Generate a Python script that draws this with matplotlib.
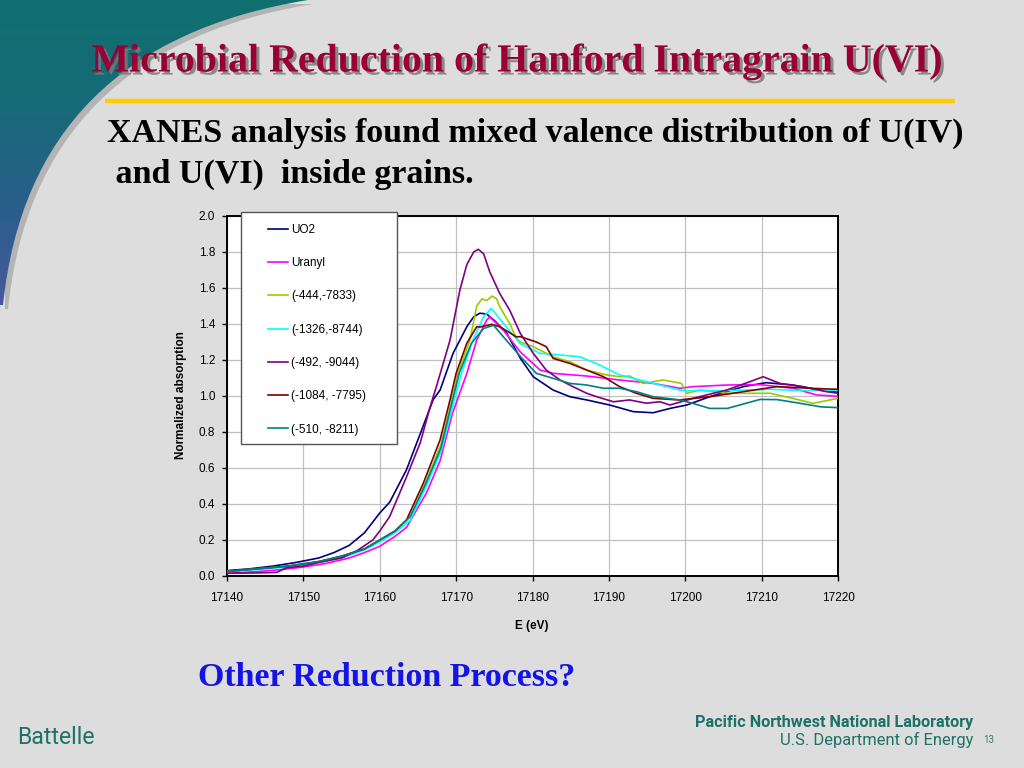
import numpy as np
import matplotlib
matplotlib.use("Agg")
import matplotlib.pyplot as plt
import matplotlib.patheffects as pe
from matplotlib.patches import Rectangle, PathPatch
from matplotlib.path import Path
from matplotlib.colors import LinearSegmentedColormap

# XANES spectra (energy in eV, normalized absorption)
e_uo2 = [17140, 17143, 17146, 17149, 17152, 17154, 17156, 17158, 17160, 17161.3, 17163.5, 17165.3,
         17167, 17167.9, 17169.6, 17171.4, 17172.3, 17173.1, 17174, 17175, 17176.6, 17178.4, 17180.1,
         17182.7, 17184.9, 17187.1, 17190.1, 17193.2, 17195.8, 17198, 17200.2, 17203.2, 17207.6,
         17210.6, 17214.1, 17217.6, 17220]
y_uo2 = [0.03, 0.04, 0.055, 0.075, 0.10, 0.13, 0.17, 0.24, 0.35, 0.41, 0.59, 0.79,
         0.98, 1.033, 1.237, 1.385, 1.44, 1.46, 1.455, 1.42, 1.35, 1.21, 1.107,
         1.033, 0.996, 0.978, 0.95, 0.913, 0.907, 0.931, 0.95, 0.996, 1.052,
         1.074, 1.061, 1.033, 1.02]

e_uranyl = [17140, 17144, 17147, 17150, 17153, 17156, 17158, 17160, 17162, 17163.5, 17166.1, 17167.9,
            17169.5, 17171.4, 17172.7, 17174, 17174.4, 17176.2, 17178.4, 17181, 17182.7, 17187.1,
            17191.4, 17195.8, 17199.3, 17201, 17205.4, 17209.8, 17214.1, 17217.2, 17220]
y_uranyl = [0.015, 0.025, 0.035, 0.05, 0.07, 0.10, 0.13, 0.165, 0.22, 0.27, 0.46, 0.64,
            0.90, 1.126, 1.311, 1.422, 1.44, 1.365, 1.245, 1.144, 1.126, 1.111,
            1.089, 1.07, 1.043, 1.052, 1.061, 1.063, 1.043, 1.006, 0.998]

e_444 = [17140, 17144, 17148, 17152, 17155, 17158, 17160, 17162, 17164, 17166, 17168, 17169.1,
         17170.2, 17171.8, 17172.7, 17173.4, 17174, 17174.7, 17175.3, 17175.7, 17177, 17177.9,
         17178.4, 17180.1, 17182.7, 17184.9, 17187.1, 17189.7, 17191.4, 17192.7, 17194.5, 17197.1,
         17199.5, 17200.2, 17201.9, 17205.5, 17211.1, 17214.1, 17216.7, 17220]
y_444 = [0.025, 0.04, 0.055, 0.08, 0.11, 0.15, 0.20, 0.25, 0.33, 0.52, 0.73, 0.92,
         1.12, 1.31, 1.50, 1.54, 1.53, 1.555, 1.54, 1.496, 1.404, 1.32,
         1.30, 1.274, 1.218, 1.19, 1.144, 1.117, 1.107, 1.111, 1.07, 1.089,
         1.07, 1.015, 1.033, 1.015, 1.015, 0.987, 0.959, 0.987]

e_1326 = [17140, 17144, 17148, 17152, 17155, 17158, 17160, 17162, 17164, 17166, 17168, 17169.1,
          17170.7, 17172.2, 17173.6, 17174.6, 17176.6, 17178.4, 17181, 17183.6, 17186.2, 17188.8,
          17191.4, 17194, 17196.7, 17199.3, 17200.2, 17205.4, 17211.1, 17215.4, 17220]
y_1326 = [0.025, 0.035, 0.05, 0.075, 0.10, 0.145, 0.19, 0.24, 0.31, 0.49, 0.69, 0.867,
          1.126, 1.31, 1.44, 1.487, 1.383, 1.29, 1.237, 1.228, 1.218, 1.172,
          1.117, 1.089, 1.061, 1.033, 1.03, 1.03, 1.037, 1.03, 1.033]

e_492 = [17140, 17144, 17146.5, 17147.8, 17150, 17152, 17155, 17157, 17159.1, 17160, 17161.3,
         17163.5, 17165.3, 17166.6, 17167.4, 17169.2, 17170.5, 17171.4, 17172.3, 17172.9, 17173.6,
         17174.4, 17174.9, 17175.7, 17177, 17178.4, 17180.1, 17181.8, 17183.6, 17185.3, 17187.1,
         17188.4, 17190.6, 17192.7, 17194.9, 17196.7, 17198, 17201, 17205.4, 17208.5, 17210.2,
         17212.4, 17215.4, 17218.5, 17220]
y_492 = [0.015, 0.017, 0.02, 0.046, 0.055, 0.075, 0.10, 0.14, 0.20, 0.25, 0.33,
         0.55, 0.74, 0.94, 1.05, 1.31, 1.59, 1.73, 1.80, 1.815, 1.79,
         1.69, 1.644, 1.57, 1.478, 1.348, 1.237, 1.144, 1.089, 1.052, 1.015,
         0.996, 0.968, 0.978, 0.96, 0.968, 0.95, 0.987, 1.033, 1.08, 1.107,
         1.07, 1.052, 1.024, 1.015]

e_1084 = [17140, 17144, 17148, 17152, 17155, 17158, 17160, 17162, 17163.5, 17165.7, 17167.9, 17169.2,
          17170, 17171.4, 17172.7, 17173.1, 17174.7, 17175.8, 17177.9, 17178.4, 17180.5, 17181.8,
          17182.7, 17184.9, 17187.1, 17189.3, 17191.4, 17193.6, 17195.8, 17199.2, 17203.2, 17207.6,
          17212, 17216.3, 17220]
y_1084 = [0.025, 0.04, 0.055, 0.08, 0.11, 0.15, 0.20, 0.25, 0.311, 0.515, 0.756, 0.978,
          1.126, 1.293, 1.385, 1.383, 1.398, 1.383, 1.328, 1.33, 1.30, 1.274,
          1.209, 1.181, 1.144, 1.107, 1.052, 1.015, 0.987, 0.978, 0.996, 1.024,
          1.052, 1.043, 1.037]

e_510 = [17140, 17144, 17148, 17152, 17155, 17158, 17160, 17162, 17164, 17166, 17168, 17168.9,
         17170.4, 17172, 17173.6, 17174.9, 17176.2, 17178.4, 17180.5, 17182.7, 17184.9, 17187.1,
         17189.3, 17191.4, 17193.6, 17195.8, 17199.3, 17201, 17203.2, 17205.5, 17209.8, 17212,
         17215.1, 17217.7, 17220]
y_510 = [0.025, 0.04, 0.055, 0.08, 0.11, 0.15, 0.20, 0.25, 0.33, 0.51, 0.71, 0.867,
         1.126, 1.293, 1.375, 1.393, 1.328, 1.22, 1.126, 1.098, 1.07, 1.061,
         1.043, 1.043, 1.024, 0.996, 0.978, 0.959, 0.931, 0.931, 0.981, 0.98,
         0.959, 0.94, 0.935]

series = [
    ("UO2", e_uo2, y_uo2, "#000080"),
    ("Uranyl", e_uranyl, y_uranyl, "#ff00ff"),
    ("(-444,-7833)", e_444, y_444, "#99cc00"),
    ("(-1326,-8744)", e_1326, y_1326, "#00ffff"),
    ("(-492, -9044)", e_492, y_492, "#800080"),
    ("(-1084, -7795)", e_1084, y_1084, "#800000"),
    ("(-510, -8211)", e_510, y_510, "#008080"),
]

x_ticks = [17140, 17150, 17160, 17170, 17180, 17190, 17200, 17210, 17220]
y_ticks = [0.0, 0.2, 0.4, 0.6, 0.8, 1.0, 1.2, 1.4, 1.6, 1.8, 2.0]

W, H = 1024, 768
fig = plt.figure(figsize=(W / 100, H / 100), dpi=100)
fig.patch.set_facecolor("#dddddd")

# slide background layer in pixel coordinates
bg = fig.add_axes([0, 0, 1, 1], zorder=0)
bg.set_xlim(0, W)
bg.set_ylim(H, 0)
bg.axis("off")

# teal swoosh in the top-left corner
verts = [(0, 0), (308, 0), (30, 45), (3, 305), (0, 305), (0, 0)]
codes = [Path.MOVETO, Path.LINETO, Path.CURVE3, Path.CURVE3, Path.LINETO, Path.CLOSEPOLY]
shadow = PathPatch(Path([(x + 5, y + 4) for x, y in verts], codes), facecolor="#9a9a9a",
                   edgecolor="none", alpha=0.6)
bg.add_patch(shadow)
swoosh = PathPatch(Path(verts, codes), facecolor="none", edgecolor="none")
bg.add_patch(swoosh)
cmap = LinearSegmentedColormap.from_list("sw", ["#0f7070", "#176a78", "#2a5e8c", "#4c59a0"])
grad = np.linspace(0, 1, 256).reshape(-1, 1)
im = bg.imshow(grad, extent=(0, 320, 320, 0), cmap=cmap, aspect="auto", zorder=1)
im.set_clip_path(swoosh)
bg.set_xlim(0, W)
bg.set_ylim(H, 0)


def fit_width(t, width):
    r = fig.canvas.get_renderer()
    w = t.get_window_extent(r).width
    t.set_fontsize(t.get_fontsize() * width / w)


serif = "Liberation Serif"
title = "Microbial Reduction of Hanford Intragrain U(VI)"
tt = bg.text(517, 62, title, fontsize=30, family=serif, weight="bold", color="#990033",
             ha="center", va="center", zorder=5)
fit_width(tt, 850)
tt.set_path_effects([pe.SimplePatchShadow(offset=(2.2, -2.2), shadow_rgbFace="#7a7a7a", alpha=0.85),
                     pe.Normal()])

bg.plot([105, 955], [101, 101], color="#ffcc00", lw=3.2, solid_capstyle="butt", zorder=3)

s1 = bg.text(107, 133, "XANES analysis found mixed valence distribution of U(IV)", fontsize=22,
             family=serif, weight="bold", color="black", ha="left", va="center", zorder=5)
fit_width(s1, 858)
bg.text(107, 174, " and U(VI)  inside grains.", fontsize=s1.get_fontsize(), family=serif,
        weight="bold", color="black", ha="left", va="center", zorder=5)

q = bg.text(198, 678, "Other Reduction Process?", fontsize=22, family=serif, weight="bold",
            color="#1414e6", ha="left", va="center", zorder=5)
fit_width(q, 379)

teal_txt = "#1d7268"
b = bg.text(17, 738, "Battelle", fontsize=15, family="Roboto", color=teal_txt,
            ha="left", va="center", zorder=5)
fit_width(b, 78)
p1 = bg.text(973, 722, "Pacific Northwest National Laboratory", fontsize=11, family="Roboto",
             weight="bold", color=teal_txt, ha="right", va="center", zorder=5)
fit_width(p1, 280)
p2 = bg.text(973, 740, "U.S. Department of Energy", fontsize=11, family="Roboto",
             color=teal_txt, ha="right", va="center", zorder=5)
fit_width(p2, 193)
bg.text(983, 740, "13", fontsize=7, family="Roboto", color="#3a7a72", ha="left", va="center", zorder=5)

# chart
x0, x1, y0, y1 = 227, 838, 216, 576
ax = fig.add_axes([x0 / W, 1 - y1 / H, (x1 - x0) / W, (y1 - y0) / H], zorder=2)
ax.set_facecolor("white")
for name, e, y, c in series:
    ax.plot(e, y, color=c, lw=1.2, label=name, zorder=3)

ax.set_xlim(17140, 17220)
ax.set_ylim(0, 2.0)
ax.set_xticks(x_ticks)
ax.set_yticks(y_ticks)
ax.set_yticklabels([f"{v:.1f}" for v in y_ticks])
ax.grid(True, color="#c0c0c0", lw=0.9, zorder=0)
ax.set_axisbelow(True)
for sp in ax.spines.values():
    sp.set_color("black")
    sp.set_linewidth(1.4)
ax.tick_params(direction="out", length=3.6, width=1, colors="black", labelsize=8.5, pad=5)
ax.tick_params(axis="x", pad=8)
for lab in ax.get_xticklabels() + ax.get_yticklabels():
    lab.set_family("Liberation Sans")

ax.set_xlabel("E (eV)", family="Liberation Sans", weight="bold", fontsize=8.5)
ax.set_ylabel("Normalized absorption", family="Liberation Sans", weight="bold", fontsize=8.5)
ax.xaxis.set_label_coords((532 - x0) / (x1 - x0), (y1 - 626) / (y1 - y0))
ax.yaxis.set_label_coords((181 - x0) / (x1 - x0), (y1 - 395) / (y1 - y0))
ax.xaxis.label.set_va("center")
ax.yaxis.label.set_va("center")

# legend box
lx0, lx1, ly0, ly1 = 241, 397, 212, 444
ax.add_patch(Rectangle(((lx0 - x0) / (x1 - x0), (y1 - ly1) / (y1 - y0)),
                       (lx1 - lx0) / (x1 - x0), (ly1 - ly0) / (y1 - y0),
                       transform=ax.transAxes, facecolor="white", edgecolor="#555555",
                       lw=1.0, clip_on=False, zorder=4))
leg = ax.legend(loc="upper left", bbox_to_anchor=((268 - x0) / (x1 - x0), (y1 - 224) / (y1 - y0)),
                frameon=False, borderpad=0, borderaxespad=0, handlelength=1.7,
                handletextpad=0.25, labelspacing=1.8, prop={"family": "Liberation Sans", "size": 8.5})
leg.set_zorder(5)

fig.savefig("out.png", dpi=100, facecolor=fig.get_facecolor())
